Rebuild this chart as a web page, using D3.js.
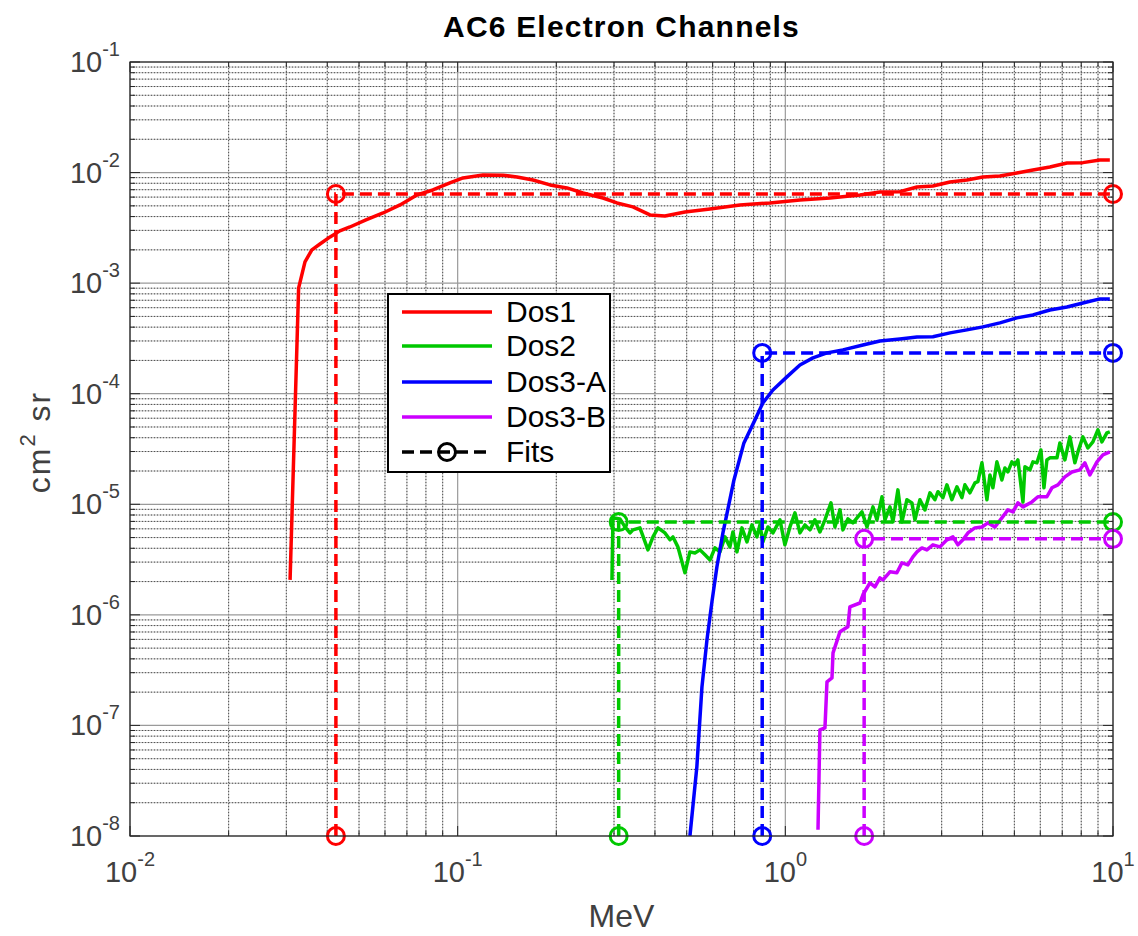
<!DOCTYPE html>
<html>
<head>
<meta charset="utf-8">
<script src="https://cdn.jsdelivr.net/npm/d3@7"></script>
<style>
  body { margin: 0; background: #fff; }
  text { font-family: "Liberation Sans", Arial, sans-serif; }
</style>
</head>
<body>
<svg id="chart" width="1138" height="936"></svg>
<script>
// Channel response curves, energy in MeV, geometric factor in cm^2 sr
const dos1E = [0.0308, 0.0327, 0.0342, 0.0359, 0.0380, 0.0408, 0.0437, 0.0469, 0.0525, 0.0592,
  0.0667, 0.0751, 0.0840, 0.0947, 0.1038, 0.1195, 0.1375, 0.1517, 0.1698, 0.1913,
  0.2155, 0.2412, 0.2776, 0.3063, 0.3427, 0.3863, 0.4292, 0.4938, 0.589, 0.727,
  0.897, 1.108, 1.368, 1.689, 1.944, 2.237, 2.522, 2.821, 3.18, 3.582,
  4.009, 4.517, 5.089, 5.697, 6.419, 7.234, 8.094, 9.12, 9.78];
const dos1G = [2.07e-6, 9.0e-4, 1.56e-3, 2.0e-3, 2.26e-3, 2.62e-3, 2.97e-3, 3.22e-3, 3.73e-3, 4.31e-3,
  5.10e-3, 6.27e-3, 6.96e-3, 8.05e-3, 8.94e-3, 9.51e-3, 9.45e-3, 9.13e-3, 8.57e-3, 7.73e-3,
  7.26e-3, 6.54e-3, 5.89e-3, 5.31e-3, 4.89e-3, 4.14e-3, 4.05e-3, 4.40e-3, 4.69e-3, 5.10e-3,
  5.31e-3, 5.65e-3, 5.89e-3, 6.27e-3, 6.68e-3, 6.72e-3, 7.41e-3, 7.57e-3, 8.22e-3, 8.57e-3,
  9.13e-3, 9.32e-3, 9.92e-3, 1.056e-2, 1.124e-2, 1.221e-2, 1.23e-2, 1.30e-2, 1.30e-2];

const dos2E = [0.2957, 0.2978, 0.3128, 0.324, 0.3356, 0.3427, 0.360, 0.3808, 0.3945, 0.4085,
  0.4292, 0.4445, 0.454, 0.470, 0.4938, 0.5115, 0.5298, 0.5488, 0.5685, 0.589,
  0.6098, 0.6316, 0.6542, 0.6774, 0.692, 0.7117, 0.7372, 0.7636, 0.7908, 0.819,
  0.8365, 0.854, 0.885, 0.9165, 0.963, 0.997, 1.033, 1.070, 1.108, 1.148,
  1.189, 1.231, 1.275, 1.321, 1.378, 1.417, 1.468, 1.499, 1.552, 1.608,
  1.713, 1.775, 1.851, 1.904, 1.972, 2.014, 2.086, 2.130, 2.206, 2.269,
  2.350, 2.434, 2.486, 2.575, 2.667, 2.763, 2.861, 2.923, 3.027, 3.113,
  3.223, 3.339, 3.458, 3.532, 3.659, 3.789, 3.870, 3.981, 4.123, 4.211,
  4.300, 4.423, 4.581, 4.679, 4.778, 4.914, 5.018, 5.126, 5.311, 5.385,
  5.577, 5.697, 5.860, 6.026, 6.155, 6.284, 6.419, 6.744, 6.886, 7.132,
  7.387, 7.651, 7.815, 8.094, 8.383, 8.683, 8.993, 9.249, 9.58, 9.78];
const dos2G = [2.07e-6, 7.54e-6, 7.38e-6, 6.24e-6, 5.51e-6, 5.87e-6, 6.12e-6, 3.87e-6, 5.07e-6, 6.12e-6,
  5.51e-6, 4.77e-6, 5.07e-6, 4.12e-6, 2.40e-6, 3.71e-6, 3.63e-6, 3.87e-6, 3.49e-6, 3.14e-6,
  4.03e-6, 3.71e-6, 5.07e-6, 4.12e-6, 5.62e-6, 3.71e-6, 6.12e-6, 4.57e-6, 6.51e-6, 5.07e-6,
  6.51e-6, 4.57e-6, 6.24e-6, 5.51e-6, 7.23e-6, 4.30e-6, 6.24e-6, 8.37e-6, 5.51e-6, 6.51e-6,
  5.87e-6, 7.23e-6, 5.62e-6, 7.23e-6, 1.03e-5, 6.24e-6, 8.90e-6, 5.87e-6, 7.38e-6, 6.79e-6,
  8.53e-6, 6.24e-6, 9.47e-6, 7.23e-6, 1.17e-5, 7.23e-6, 9.47e-6, 6.93e-6, 1.35e-5, 6.93e-6,
  1.10e-5, 1.03e-5, 7.23e-6, 1.10e-5, 8.90e-6, 1.27e-5, 1.10e-5, 1.30e-5, 1.15e-5, 1.50e-5,
  1.10e-5, 1.44e-5, 1.15e-5, 1.50e-5, 1.27e-5, 1.56e-5, 1.60e-5, 2.37e-5, 1.10e-5, 1.84e-5,
  1.41e-5, 2.42e-5, 1.66e-5, 2.13e-5, 1.96e-5, 2.42e-5, 2.27e-5, 2.52e-5, 1.05e-5, 2.18e-5,
  2.05e-5, 2.42e-5, 2.37e-5, 3.10e-5, 1.41e-5, 2.52e-5, 2.63e-5, 2.63e-5, 3.59e-5, 2.52e-5,
  4.07e-5, 2.37e-5, 2.98e-5, 4.07e-5, 3.23e-5, 3.67e-5, 4.71e-5, 3.67e-5, 4.42e-5, 4.52e-5];

const dos3aE = [0.5115, 0.537, 0.5566, 0.5765, 0.597, 0.6183, 0.645, 0.697, 0.7475, 0.808,
  0.854, 0.9165, 1.011, 1.108, 1.214, 1.34, 1.499, 1.725, 1.944, 2.237,
  2.522, 2.821, 3.18, 3.582, 4.009, 4.517, 5.089, 5.697, 6.419, 7.234,
  8.094, 9.12, 9.78];
const dos3aG = [1.0e-8, 4.22e-8, 2.23e-7, 5.94e-7, 1.31e-6, 2.72e-6, 5.51e-6, 1.66e-5, 3.59e-5, 5.80e-5,
  8.26e-5, 1.08e-4, 1.42e-4, 1.82e-4, 2.11e-4, 2.34e-4, 2.49e-4, 2.76e-4, 3.00e-4, 3.13e-4,
  3.26e-4, 3.28e-4, 3.55e-4, 3.78e-4, 4.02e-4, 4.37e-4, 4.85e-4, 5.16e-4, 5.72e-4, 6.09e-4,
  6.62e-4, 7.20e-4, 7.20e-4];

const dos3bE = [1.258, 1.275, 1.321, 1.34, 1.388, 1.398, 1.468, 1.552, 1.574, 1.689,
  1.725, 1.812, 1.877, 1.944, 1.986, 2.086, 2.19, 2.269, 2.366, 2.451,
  2.522, 2.611, 2.704, 2.821, 2.964, 3.113, 3.247, 3.363, 3.483, 3.607,
  3.789, 3.981, 4.153, 4.362, 4.581, 4.778, 4.95, 5.126, 5.311, 5.657,
  5.90, 6.284, 6.51, 6.79, 7.132, 7.492, 7.925, 8.208, 8.502, 8.934,
  9.315, 9.78];
const dos3bG = [1.14e-8, 9.13e-8, 9.51e-8, 2.48e-7, 2.69e-7, 4.53e-7, 7.02e-7, 7.79e-7, 1.18e-6, 1.28e-6,
  1.52e-6, 1.95e-6, 1.79e-6, 2.16e-6, 2.07e-6, 2.45e-6, 2.40e-6, 2.95e-6, 2.83e-6, 3.35e-6,
  3.71e-6, 4.03e-6, 3.87e-6, 4.30e-6, 4.12e-6, 4.77e-6, 5.07e-6, 4.30e-6, 4.77e-6, 5.51e-6,
  6.12e-6, 6.24e-6, 6.79e-6, 6.24e-6, 7.53e-6, 8.90e-6, 8.53e-6, 1.03e-5, 9.47e-6, 1.05e-5,
  1.17e-5, 1.17e-5, 1.41e-5, 1.50e-5, 1.77e-5, 1.96e-5, 2.05e-5, 2.37e-5, 1.84e-5, 2.42e-5,
  2.80e-5, 2.98e-5];

// Step fits: threshold energy and flat geometric factor
const fitE0 = [0.0425, 0.31, 0.85, 1.74];
const fitG0 = [6.4e-3, 6.9e-6, 2.34e-4, 4.87e-6];

const names = ['Dos1', 'Dos2', 'Dos3-A', 'Dos3-B'];
const colors = ['#ff0000', '#00c800', '#0000ff', '#cc00ff'];

const xTickVals = [1e-2, 1e-1, 1e0, 1e1];
const xTickExp = ['-2', '-1', '0', '1'];
const yTickVals = [1e-8, 1e-7, 1e-6, 1e-5, 1e-4, 1e-3, 1e-2, 1e-1];
const yTickExp = ['-8', '-7', '-6', '-5', '-4', '-3', '-2', '-1'];

const margin = { top: 62, right: 25, bottom: 100, left: 130 };
const width = 1138 - margin.left - margin.right;
const height = 936 - margin.top - margin.bottom;

const svg = d3.select('#chart');
const g = svg.append('g').attr('transform', `translate(${margin.left}, ${margin.top})`);

const x = d3.scaleLog().domain([1e-2, 1e1]).range([0, width]);
const y = d3.scaleLog().domain([1e-8, 1e-1]).range([height, 0]);

const axisColor = '#262626';
const labelColor = '#404040';

// Grid, minor then major
const isMajor = v => xTickVals.concat(yTickVals).some(t => Math.abs(v / t - 1) < 1e-6);
const xMinor = x.ticks().filter(v => !isMajor(v));
const yMinor = y.ticks().filter(v => !isMajor(v));

g.append('g').selectAll('line').data(xMinor).enter().append('line')
  .attr('x1', d => x(d)).attr('x2', d => x(d)).attr('y1', 0).attr('y2', height)
  .attr('stroke', '#b8b8b8').attr('stroke-width', 1);
g.append('g').selectAll('line').data(yMinor).enter().append('line')
  .attr('y1', d => y(d)).attr('y2', d => y(d)).attr('x1', 0).attr('x2', width)
  .attr('stroke', '#b8b8b8').attr('stroke-width', 1);
g.append('g').selectAll('line').data(xMinor).enter().append('line')
  .attr('x1', d => x(d)).attr('x2', d => x(d)).attr('y1', 0).attr('y2', height)
  .attr('stroke', '#505050').attr('stroke-width', 1).attr('stroke-dasharray', '1,2');
g.append('g').selectAll('line').data(yMinor).enter().append('line')
  .attr('y1', d => y(d)).attr('y2', d => y(d)).attr('x1', 0).attr('x2', width)
  .attr('stroke', '#505050').attr('stroke-width', 1).attr('stroke-dasharray', '1,2');
g.append('g').selectAll('line').data(xTickVals).enter().append('line')
  .attr('x1', d => x(d)).attr('x2', d => x(d)).attr('y1', 0).attr('y2', height)
  .attr('stroke', '#9a9a9a').attr('stroke-width', 1.2);
g.append('g').selectAll('line').data(yTickVals).enter().append('line')
  .attr('y1', d => y(d)).attr('y2', d => y(d)).attr('x1', 0).attr('x2', width)
  .attr('stroke', '#9a9a9a').attr('stroke-width', 1.2);

// Inner ticks on all four sides
const tickLen = v => (isMajor(v) ? 10 : 5);
const tk = g.append('g').attr('stroke', axisColor).attr('stroke-width', 1);
x.ticks().forEach(v => {
  tk.append('line').attr('x1', x(v)).attr('x2', x(v)).attr('y1', height).attr('y2', height - tickLen(v));
  tk.append('line').attr('x1', x(v)).attr('x2', x(v)).attr('y1', 0).attr('y2', tickLen(v));
});
y.ticks().forEach(v => {
  tk.append('line').attr('y1', y(v)).attr('y2', y(v)).attr('x1', 0).attr('x2', tickLen(v));
  tk.append('line').attr('y1', y(v)).attr('y2', y(v)).attr('x1', width).attr('x2', width - tickLen(v));
});

// Clip for data
g.append('clipPath').attr('id', 'clip').append('rect')
  .attr('x', 0).attr('y', 0).attr('width', width).attr('height', height);

const line = d3.line().x(d => x(d[0])).y(d => y(d[1]));
const series = [
  d3.zip(dos1E, dos1G),
  d3.zip(dos2E, dos2G),
  d3.zip(dos3aE, dos3aG),
  d3.zip(dos3bE, dos3bG)
];

const plot = g.append('g').attr('clip-path', 'url(#clip)');
series.forEach((s, i) => {
  plot.append('path').datum(s)
    .attr('d', line)
    .attr('fill', 'none')
    .attr('stroke', colors[i])
    .attr('stroke-width', 3.5)
    .attr('stroke-linejoin', 'round');
});

// Fits
fitE0.forEach((e0, i) => {
  const pts = [[e0, 1e-8], [e0, fitG0[i]], [1e1, fitG0[i]]];
  g.append('path').datum(pts)
    .attr('d', line)
    .attr('fill', 'none')
    .attr('stroke', colors[i])
    .attr('stroke-width', 3.5)
    .attr('stroke-dasharray', '12,6');
  g.selectAll(null).data(pts).enter().append('circle')
    .attr('cx', d => x(d[0])).attr('cy', d => y(d[1]))
    .attr('r', 8.5)
    .attr('fill', 'none')
    .attr('stroke', colors[i])
    .attr('stroke-width', 3);
});

// Axes box
g.append('rect').attr('x', 0).attr('y', 0).attr('width', width).attr('height', height)
  .attr('fill', 'none').attr('stroke', axisColor).attr('stroke-width', 1.2);

// Tick labels with superscripts
xTickVals.forEach((v, i) => {
  const t = g.append('text')
    .attr('x', x(v)).attr('y', height + 46)
    .attr('text-anchor', 'middle')
    .attr('fill', labelColor).attr('font-size', 29);
  t.append('tspan').text('10');
  t.append('tspan').attr('dy', -16).attr('font-size', 20).text(xTickExp[i]);
});
yTickVals.forEach((v, i) => {
  const t = g.append('text')
    .attr('x', -10).attr('y', y(v) + 10)
    .attr('text-anchor', 'end')
    .attr('fill', labelColor).attr('font-size', 29);
  t.append('tspan').text('10');
  t.append('tspan').attr('dy', -16).attr('font-size', 20).text(yTickExp[i]);
});

// Titles
svg.append('text')
  .attr('x', margin.left + width / 2).attr('y', 37)
  .attr('text-anchor', 'middle')
  .attr('font-size', 30).attr('font-weight', 'bold').attr('fill', '#000')
  .attr('letter-spacing', 1.2)
  .text('AC6 Electron Channels');

svg.append('text')
  .attr('x', margin.left + width / 2).attr('y', 927)
  .attr('text-anchor', 'middle')
  .attr('font-size', 32).attr('fill', labelColor)
  .text('MeV');

const yl = svg.append('text')
  .attr('transform', `translate(50, ${margin.top + height / 2 - 7}) rotate(-90)`)
  .attr('text-anchor', 'middle')
  .attr('font-size', 32).attr('fill', labelColor)
  .attr('letter-spacing', 2);
yl.append('tspan').text('cm');
yl.append('tspan').attr('dy', -15).attr('font-size', 22).text('2');
yl.append('tspan').attr('dy', 15).text(' sr');

// Legend
const legend = svg.append('g').attr('transform', 'translate(388, 294)');
legend.append('rect').attr('width', 222).attr('height', 178)
  .attr('fill', '#fff').attr('stroke', '#000').attr('stroke-width', 2);
const rowY = [18, 52, 88, 123, 158];
names.forEach((n, i) => {
  legend.append('line').attr('x1', 14).attr('x2', 104).attr('y1', rowY[i]).attr('y2', rowY[i])
    .attr('stroke', colors[i]).attr('stroke-width', 3.5);
  legend.append('text').attr('x', 118).attr('y', rowY[i] + 10)
    .attr('font-size', 30).attr('fill', '#000').text(n);
});
legend.append('line').attr('x1', 14).attr('x2', 104).attr('y1', rowY[4]).attr('y2', rowY[4])
  .attr('stroke', '#000').attr('stroke-width', 3.5).attr('stroke-dasharray', '12,6');
legend.append('circle').attr('cx', 59).attr('cy', rowY[4]).attr('r', 8.5)
  .attr('fill', 'none').attr('stroke', '#000').attr('stroke-width', 3);
legend.append('text').attr('x', 118).attr('y', rowY[4] + 10)
  .attr('font-size', 30).attr('fill', '#000').text('Fits');
</script>
</body>
</html>
